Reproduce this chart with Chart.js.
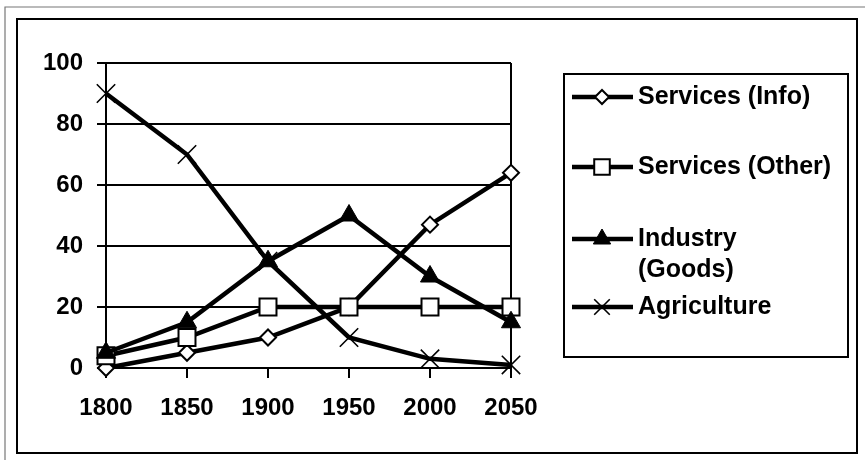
<!DOCTYPE html>
<html>
<head>
<meta charset="utf-8">
<script src="https://cdn.jsdelivr.net/npm/chart.js@4/dist/chart.umd.min.js"></script>
<style>
html,body{margin:0;padding:0;background:#fff;}
canvas{display:block;}
</style>
</head>
<body>
<canvas id="c" width="865" height="460"></canvas>
<script>
const years = ['1800', '1850', '1900', '1950', '2000', '2050'];
const servicesInfo = [0, 5, 10, 20, 47, 64];
const servicesOther = [4, 10, 20, 20, 20, 20];
const industryGoods = [5, 15, 35, 50, 30, 15];
const agriculture = [90, 70, 35, 10, 3, 1];
const seriesLabels = ['Services (Info)', 'Services (Other)', 'Industry (Goods)', 'Agriculture'];
const legendLines = [['Services (Info)'], ['Services (Other)'], ['Industry', '(Goods)'], ['Agriculture']];
const yTicks = [0, 20, 40, 60, 80, 100];

const FONT = '"Liberation Sans", Arial, sans-serif';

const styles = [
  {pointStyle: 'rectRot', radius: 8, fill: '#fff', bw: 2, lr: 7},
  {pointStyle: 'rect', radius: 12, fill: '#fff', bw: 2, lr: 11},
  {pointStyle: 'triangle', radius: 11, fill: '#000', bw: 1, lr: 10},
  {pointStyle: 'crossRot', radius: 13, fill: '#000', bw: 1.6, lr: 11}
];
const allData = [servicesInfo, servicesOther, industryGoods, agriculture];

const datasets = allData.map((d, i) => ({
  label: seriesLabels[i],
  data: d,
  order: allData.length - i,
  borderColor: '#000',
  borderWidth: 4.5,
  backgroundColor: '#000',
  pointStyle: styles[i].pointStyle,
  pointRadius: styles[i].radius,
  pointBackgroundColor: styles[i].fill,
  pointBorderColor: '#000',
  pointBorderWidth: styles[i].bw,
  tension: 0,
  fill: false,
  clip: false
}));

const framePlugin = {
  id: 'frame',
  beforeDraw(chart) {
    const ctx = chart.ctx;
    ctx.save();
    ctx.fillStyle = '#fff';
    ctx.fillRect(0, 0, chart.width, chart.height);
    ctx.strokeStyle = '#777';
    ctx.lineWidth = 1.2;
    ctx.beginPath();
    ctx.moveTo(5, 460); ctx.lineTo(5, 7); ctx.lineTo(865, 7);
    ctx.stroke();
    ctx.strokeStyle = '#000';
    ctx.lineWidth = 2;
    ctx.strokeRect(17, 19, 840, 434);
    ctx.restore();
  }
};

const legendPlugin = {
  id: 'boxLegend',
  afterDraw(chart) {
    const ctx = chart.ctx;
    ctx.save();
    ctx.strokeStyle = '#000';
    ctx.lineWidth = 2;
    ctx.strokeRect(564, 74, 284, 283);
    const rows = [97, 167, 239, 307];
    const lineGap = 31;
    seriesLabels.forEach((lbl, i) => {
      const y = rows[i];
      ctx.strokeStyle = '#000';
      ctx.lineWidth = 4.5;
      ctx.beginPath();
      ctx.moveTo(572, y); ctx.lineTo(633, y);
      ctx.stroke();
      const opts = {
        pointStyle: styles[i].pointStyle,
        radius: styles[i].lr,
        rotation: 0,
        borderWidth: styles[i].bw
      };
      ctx.fillStyle = styles[i].fill;
      ctx.strokeStyle = '#000';
      ctx.lineWidth = styles[i].bw;
      Chart.helpers.drawPoint(ctx, opts, 602, y);
      ctx.fillStyle = '#000';
      ctx.font = 'bold 25px ' + FONT;
      ctx.textAlign = 'left';
      ctx.textBaseline = 'middle';
      legendLines[i].forEach((t, k) => {
        ctx.fillText(t, 638, y + k * lineGap);
      });
    });
    ctx.restore();
  }
};

new Chart(document.getElementById('c'), {
  type: 'line',
  data: {labels: years, datasets: datasets},
  options: {
    responsive: false,
    animation: false,
    events: [],
    layout: {padding: {top: 63, right: 354, bottom: 0, left: 0}},
    plugins: {legend: {display: false}, tooltip: {enabled: false}, title: {display: false}},
    scales: {
      x: {
        type: 'category',
        offset: false,
        afterFit(scale) { scale.height = 92; },
        grid: {
          display: true,
          drawOnChartArea: true,
          color: (c) => (c.index === years.length - 1 ? '#000' : 'rgba(0,0,0,0)'),
          tickColor: '#000',
          lineWidth: 2,
          tickLength: 10
        },
        border: {display: true, color: '#000', width: 2},
        ticks: {
          color: '#000',
          padding: 16,
          maxRotation: 0,
          autoSkip: false,
          font: {family: FONT, size: 24, weight: 'bold'}
        }
      },
      y: {
        min: 0,
        max: 100,
        afterFit(scale) { scale.width = 106; },
        afterBuildTicks(scale) { scale.ticks = yTicks.map(v => ({value: v})); },
        grid: {color: '#000', lineWidth: 2, tickLength: 9, tickColor: '#000'},
        border: {display: true, color: '#000', width: 2},
        ticks: {
          color: '#000',
          padding: 14,
          font: {family: FONT, size: 24, weight: 'bold'}
        }
      }
    }
  },
  plugins: [framePlugin, legendPlugin]
});
</script>
</body>
</html>
